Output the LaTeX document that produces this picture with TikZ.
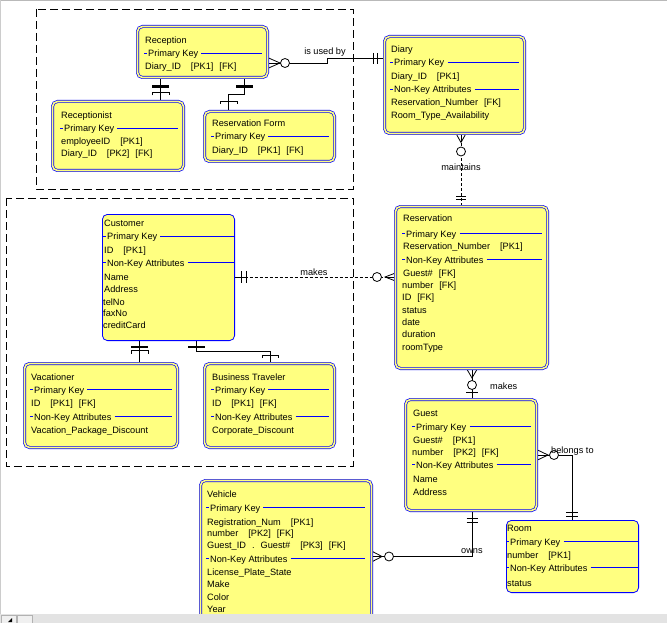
\documentclass[tikz,border=0pt]{standalone}
\usepackage{fontspec}
\setmainfont{Liberation Sans}
\usetikzlibrary{calc}
\definecolor{eblue}{RGB}{0,0,255}
\definecolor{eyel}{RGB}{255,255,128}
\pgfdeclarelayer{bg}
\pgfsetlayers{bg,main}
\newcommand\ga{\hspace{10pt}}
\newcommand\gb{\hspace{6pt}}
\tikzset{
 ent/.style={draw=eblue, line width=0.7pt, double=eyel, double distance=1.6pt, fill=eyel, rounded corners=5pt, inner sep=0pt, outer sep=0pt},
 ents/.style={draw=eblue, line width=0.8pt, fill=eyel, rounded corners=5pt, inner sep=0pt, outer sep=0pt},
 txt/.style={font=\fontsize{9.2}{11}\selectfont, inner sep=0pt, anchor=base west},
 kl/.style={draw=eblue, line width=0.8pt},
 conn/.style={draw=black, line width=0.8pt},
 dconn/.style={draw=black, line width=0.8pt, dash pattern=on 3pt off 2pt},
 barline/.style={draw=black, line width=2.6pt},
 circ/.style={draw=black, line width=0.8pt, fill=white},
 grp/.style={draw=black, line width=0.8pt, dash pattern=on 8pt off 4pt},
 lab/.style={font=\fontsize{9.2}{11}\selectfont, inner sep=0pt},
}
\newcommand\ERdbox[5]{\node[ent, minimum width={#4-#2-3}, minimum height={#5-#3-3}] (#1) at ({(#2+#4)/2},{(#3+#5)/2}) {};}
\newcommand\ERsbox[5]{\node[ents, minimum width={#4-#2-0.8}, minimum height={#5-#3-0.8}] (#1) at ({(#2+#4)/2},{(#3+#5)/2}) {};}
\newcommand\trow[4]{\node[txt] (#1) at (#2,#3) {#4};}
\newcommand\krow[5]{\draw[kl] (#2-1,#3-4) -- (#2+1.5,#3-4);
 \node[txt] (#1) at (#2+3,#3) {#4};
 \draw[kl] ($(#1.base east)+(3,-4)$) -- (#5,#3-4);}
\begin{document}
\begin{tikzpicture}[x=1pt,y=-1pt]
\useasboundingbox (0,0) rectangle (667,623);
% entity boxes
\ERdbox{rec}{136}{25}{269}{79}
\ERdbox{rcp}{51}{100}{185}{172}
\ERdbox{rf}{203}{110}{336}{163}
\ERdbox{diary}{383}{35}{526}{135}
\ERsbox{cust}{102}{214}{235}{341}
\ERdbox{vac}{23}{362}{179}{449}
\ERdbox{bt}{203}{362}{336}{449}
\ERdbox{res}{394}{205}{549}{370}
\ERdbox{guest}{404}{398}{538}{512}
\ERsbox{room}{506}{520}{639}{593}
\ERdbox{veh}{199}{479}{373}{640}
% helper coordinates
\coordinate (xa) at (160.5,0);
\coordinate (xb) at (244.5,0);
\coordinate (xc) at (228.5,0);
\coordinate (xd) at (139.5,0);
\coordinate (xe) at (196.5,0);
\coordinate (xf) at (270,0);
\coordinate (xg) at (461,0);
\coordinate (xh) at (472,0);
\coordinate (xi) at (572,0);
\coordinate (ya) at (0,63);
\coordinate (yb) at (0,58.5);
\coordinate (yc) at (0,277);
\coordinate (yd) at (0,455);
\coordinate (ye) at (0,556.5);
\begin{pgfonlayer}{bg}
\fill[white] (0,0) rectangle (667,623);
\draw[grp] (36,9) rectangle (353,189);
\draw[grp] (6,198) rectangle (353,466);
% Reception - Receptionist
\draw[conn] (rec.south -| xa) -- (rcp.north -| xa);
\draw[barline] ($(rec.south -| xa)+(-8.5,9)$) -- ++(17,0);
\draw[conn] ($(rec.south -| xa)+(-8.5,18)$) -- ++(0,-3) -- ++(17,0) -- ++(0,3);
% Reception - Reservation Form
\draw[conn] (rec.south -| xb) -- ++(0,17) -| (rf.north -| xc);
\draw[barline] ($(rec.south -| xb)+(-8.5,9)$) -- ++(17,0);
\draw[conn] ($(rf.north -| xc)+(-8.5,-7.5)$) -- ++(0,-3) -- ++(17,0) -- ++(0,3);
% Customer - Vacationer
\draw[conn] (cust.south -| xd) -- (vac.north -| xd);
\draw[barline] ($(cust.south -| xd)+(-8.5,6.4)$) -- ++(17,0);
\draw[conn] ($(cust.south -| xd)+(-8.5,13)$) -- ++(0,-3) -- ++(17,0) -- ++(0,3);
% Customer - Business Traveler
\draw[conn] (cust.south -| xe) -- ++(0,10.4) -| (bt.north -| xf);
\draw[barline] ($(cust.south -| xe)+(-8.5,6.4)$) -- ++(17,0);
\draw[conn] ($(bt.north -| xf)+(-8,-5.5)$) -- ++(0,-3) -- ++(16,0) -- ++(0,3);
% Reception - Diary : is used by
\draw[conn] (rec.east |- ya) -- ++(59.5,0) |- (diary.west |- yb);
\draw[conn] ($(rec.east |- ya)+(0,-5.5)$) -- ++(12.5,5.5) -- ++(-12.5,5.5);
\draw[circ] ($(rec.east |- ya)+(17.5,0)$) circle (4.5pt);
\draw[conn] ($(diary.west |- yb)+(-11.5,-5.5)$) -- ++(0,11);
\draw[conn] ($(diary.west |- yb)+(-7.5,-5.5)$) -- ++(0,11);
\node[lab, anchor=base] (l1) at (325,55) {is used by};
% Diary - Reservation : maintains
\draw[dconn] (diary.south -| xg) -- (res.north -| xg);
\draw[conn] (diary.south -| xg) -- ++(0,9);
\draw[conn] ($(diary.south -| xg)+(-5,0)$) -- ++(5,9) -- ++(5,-9);
\draw[circ] ($(diary.south -| xg)+(0,18)$) circle (4.5pt);
\draw[conn] ($(res.north -| xg)+(-5,-10.5)$) -- ++(10,0);
\draw[conn] ($(res.north -| xg)+(-5,-7)$) -- ++(10,0);
\node[lab, anchor=base] (l2) at (461,171) {maintains};
% Customer - Reservation : makes
\draw[dconn] (cust.east |- yc) -- (res.west |- yc);
\draw[conn] (cust.east |- yc) -- ++(12,0);
\draw[conn] ($(cust.east |- yc)+(7,-6)$) -- ++(0,12);
\draw[conn] ($(cust.east |- yc)+(11.4,-6)$) -- ++(0,12);
\draw[conn] (res.west |- yc) -- ++(-10.5,0);
\draw[conn] ($(res.west |- yc)+(0,-4)$) -- ++(-10.5,4) -- ++(10.5,4);
\draw[circ] ($(res.west |- yc)+(-18.5,0)$) circle (4.5pt);
\node[lab, anchor=base] (l3) at (314,275) {makes};
% Reservation - Guest : makes
\draw[conn] (res.south -| xh) -- (guest.north -| xh);
\draw[conn] ($(res.south -| xh)+(-5.5,0)$) -- ++(5.5,9.5) -- ++(5.5,-9.5);
\draw[circ] ($(res.south -| xh)+(0,16.5)$) circle (4.5pt);
\draw[conn] ($(guest.north -| xh)+(-6,-7.5)$) -- ++(12,0);
\node[lab, anchor=base west] (l4) at (490,389) {makes};
% Guest - Room : belongs to
\draw[conn] (guest.east |- yd) -| (room.north -| xi);
\draw[conn] ($(guest.east |- yd)+(0,-5.5)$) -- ++(11.5,5.5) -- ++(-11.5,5.5);
\draw[circ] ($(guest.east |- yd)+(17.5,0)$) circle (4.5pt);
\draw[conn] ($(room.north -| xi)+(-6,-8.4)$) -- ++(12,0);
\draw[conn] ($(room.north -| xi)+(-6,-4.4)$) -- ++(12,0);
% Guest - Vehicle : owns
\draw[conn] (guest.south -| xh) |- (veh.east |- ye);
\draw[conn] ($(guest.south -| xh)+(-5.5,7.5)$) -- ++(11,0);
\draw[conn] ($(guest.south -| xh)+(-5.5,11.5)$) -- ++(11,0);
\draw[conn] ($(veh.east |- ye)+(0,-5.5)$) -- ++(10.5,5.5) -- ++(-10.5,5.5);
\draw[circ] ($(veh.east |- ye)+(17.5,0)$) circle (4.5pt);
\end{pgfonlayer}
\node[lab, anchor=base west] (l5) at (551,453) {belongs to};
\node[lab, anchor=base west] (l6) at (461,553) {owns};
% Reception
\trow{rect1}{145}{44}{Reception}
\krow{rect2}{145}{57}{Primary Key}{262}
\trow{rect3}{145}{70}{Diary\_ID\ga[PK1]\gb[FK]}
% Receptionist
\trow{rcpt1}{61}{119}{Receptionist}
\krow{rcpt2}{61}{132}{Primary Key}{178}
\trow{rcpt3}{61}{145}{employeeID\ga[PK1]}
\trow{rcpt4}{61}{157}{Diary\_ID\ga[PK2]\gb[FK]}
% Reservation Form
\trow{rft1}{212}{127}{Reservation Form}
\krow{rft2}{212}{140}{Primary Key}{329}
\trow{rft3}{212}{154}{Diary\_ID\ga[PK1]\gb[FK]}
% Diary
\trow{dt1}{391}{53}{Diary}
\krow{dt2}{391}{66}{Primary Key}{519}
\trow{dt3}{391}{80}{Diary\_ID\ga[PK1]}
\krow{dt4}{391}{93}{Non-Key Attributes}{519}
\trow{dt5}{391}{106}{Reservation\_Number\gb[FK]}
\trow{dt6}{391}{119}{Room\_Type\_Availability}
% Customer
\trow{ct1}{104}{226}{Customer}
\krow{ct2}{104}{240}{Primary Key}{234.6}
\trow{ct3}{104}{253}{ID\ga[PK1]}
\krow{ct4}{104}{266}{Non-Key Attributes}{234.6}
\trow{ct5}{104}{280}{Name}
\trow{ct6}{104}{292}{Address}
\trow{ct7}{103}{305}{telNo}
\trow{ct8}{103}{316}{faxNo}
\trow{ct9}{103}{328}{creditCard}
% Vacationer
\trow{vt1}{31}{380}{Vacationer}
\krow{vt2}{31}{393}{Primary Key}{172}
\trow{vt3}{31}{406}{ID\ga[PK1]\gb[FK]}
\krow{vt4}{31}{420}{Non-Key Attributes}{172}
\trow{vt5}{31}{433}{Vacation\_Package\_Discount}
% Business Traveler
\trow{btt1}{212}{380}{Business Traveler}
\krow{btt2}{212}{393}{Primary Key}{329}
\trow{btt3}{212}{406}{ID\ga[PK1]\gb[FK]}
\krow{btt4}{212}{420}{Non-Key Attributes}{329}
\trow{btt5}{212}{433}{Corporate\_Discount}
% Reservation
\trow{rt1}{403}{222}{Reservation}
\krow{rt2}{403}{237}{Primary Key}{542}
\trow{rt3}{403}{249}{Reservation\_Number\ga[PK1]}
\krow{rt4}{403}{263}{Non-Key Attributes}{542}
\trow{rt5}{403}{276}{Guest\#\gb[FK]}
\trow{rt6}{402}{288}{number\gb[FK]}
\trow{rt7}{402}{300}{ID\gb[FK]}
\trow{rt8}{402}{313}{status}
\trow{rt9}{402}{325}{date}
\trow{rt10}{402}{337}{duration}
\trow{rt11}{402}{350}{roomType}
% Guest
\trow{gt1}{413}{416}{Guest}
\krow{gt2}{413}{430}{Primary Key}{531}
\trow{gt3}{413}{443}{Guest\#\ga[PK1]}
\trow{gt4}{412}{455}{number\ga[PK2]\gb[FK]}
\krow{gt5}{413}{468}{Non-Key Attributes}{531}
\trow{gt6}{413}{482}{Name}
\trow{gt7}{413}{495}{Address}
% Room
\trow{rmt1}{507}{531}{Room}
\krow{rmt2}{507}{545}{Primary Key}{638}
\trow{rmt3}{507}{558}{number\ga[PK1]}
\krow{rmt4}{507}{571}{Non-Key Attributes}{638}
\trow{rmt5}{507}{586}{status}
% Vehicle
\trow{vht1}{207}{497}{Vehicle}
\krow{vht2}{207}{511}{Primary Key}{365}
\trow{vht3}{207}{525}{Registration\_Num\ga[PK1]}
\trow{vht4}{207}{536}{number\ga[PK2]\gb[FK]}
\trow{vht5}{207}{548}{Guest\_ID\hspace{6pt}.\hspace{6pt}Guest\#\ga[PK3]\gb[FK]}
\krow{vht6}{207}{562}{Non-Key Attributes}{365}
\trow{vht7}{207}{575}{License\_Plate\_State}
\trow{vht8}{207}{587}{Make}
\trow{vht9}{207}{600}{Color}
\trow{vht10}{207}{612}{Year}
% window frame and scroll bar
\draw[gray!55, line width=1pt] (0,1) -- (667,1);
\draw[gray!40, line width=1pt] (0.5,0) -- (0.5,614);
\fill[gray!22] (0,614) rectangle (667,623);
\draw[gray!60, fill=gray!12] (1,615) rectangle (16,623);
\draw[gray!60, fill=gray!12] (17,615) rectangle (32,623);
\fill[black] (8,622) -- (12,622) -- (12,618) -- cycle;
\end{tikzpicture}
\end{document}
